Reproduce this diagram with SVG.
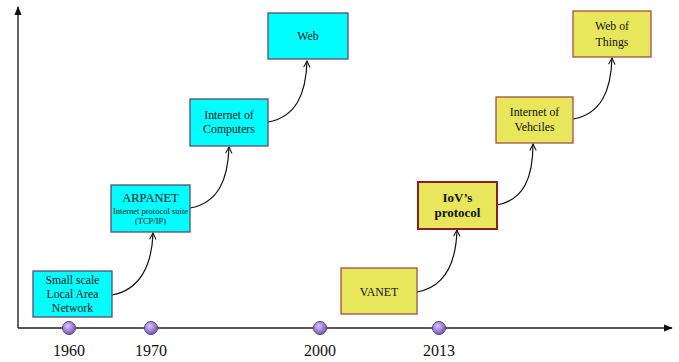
<svg xmlns="http://www.w3.org/2000/svg" width="679" height="362" viewBox="0 0 679 362">
<style>
.cy{fill:#00ffff;stroke:#5e4a6e;stroke-width:1.3}
.ye{fill:#e8e65a;stroke:#a0504a;stroke-width:1.3}
.yb{fill:#e8e65a;stroke:#8a1f2a;stroke-width:2}
text{font-family:"Liberation Serif","Times New Roman",serif;fill:#111;text-anchor:middle}
.t{font-size:11.8px}
.a{font-size:12.5px}
.s{font-size:8.5px}
.b{font-size:13px;font-weight:bold}
.yr{font-size:16px}
.con path{fill:none;stroke:#111;stroke-width:1.2}
.ax{stroke:#222;stroke-width:1.4;fill:none}
.dot{fill:url(#g);stroke:#5b3f8f;stroke-width:1}
</style>
<defs>
<marker id="oa" viewBox="0 0 10 10" refX="9" refY="5" markerWidth="8" markerHeight="8" orient="auto" markerUnits="userSpaceOnUse">
<path d="M1,1 L9,5 L1,9" fill="none" stroke="#111" stroke-width="1.3"/>
</marker>
<marker id="fa" viewBox="0 0 10 10" refX="9" refY="5" markerWidth="9" markerHeight="9" orient="auto" markerUnits="userSpaceOnUse">
<path d="M0,1 L10,5 L0,9 z" fill="#111"/>
</marker>
<radialGradient id="g" cx="40%" cy="35%" r="70%">
<stop offset="0" stop-color="#d9c8f5"/>
<stop offset="0.5" stop-color="#a487db"/>
<stop offset="1" stop-color="#6f4fb0"/>
</radialGradient>
</defs>
<g id="axes">
<path class="ax" d="M18,328 L18,7" marker-end="url(#fa)"/>
<path class="ax" d="M18,328 L672,328" marker-end="url(#fa)"/>
</g>
<g id="years">
<circle class="dot" cx="69" cy="328" r="6.5"/>
<circle class="dot" cx="151" cy="328" r="6.5"/>
<circle class="dot" cx="320" cy="328" r="6.5"/>
<circle class="dot" cx="439" cy="328" r="6.5"/>
<text class="yr" x="69" y="356">1960</text>
<text class="yr" x="151" y="356">1970</text>
<text class="yr" x="320" y="356">2000</text>
<text class="yr" x="439" y="356">2013</text>
</g>
<g class="con" id="connectors">
<path d="M112,295 C140,290 152,265 153,233" marker-end="url(#oa)"/>
<path d="M190,208 C218,203 228,180 229,147" marker-end="url(#oa)"/>
<path d="M268,122 C296,117 306,94 307,61" marker-end="url(#oa)"/>
<path d="M417,292 C445,287 456,262 457,230" marker-end="url(#oa)"/>
<path d="M497,205 C524,200 533,177 533,144" marker-end="url(#oa)"/>
<path d="M573,119 C601,114 611,91 612,58" marker-end="url(#oa)"/>
</g>
<g id="n1960">
<rect class="cy" x="33" y="271" width="79" height="46"/>
<text class="t" x="72.5" y="284">Small scale</text>
<text class="t" x="72.5" y="298">Local Area</text>
<text class="t" x="72.5" y="312">Network</text>
</g>
<g id="arpanet">
<rect class="cy" x="111" y="185" width="79" height="47"/>
<text class="a" x="150.5" y="202">ARPANET</text>
<text class="s" x="150.5" y="214">Internet protocol suite</text>
<text class="s" x="150.5" y="224">(TCP/IP)</text>
</g>
<g id="ioc">
<rect class="cy" x="190" y="99" width="78" height="47"/>
<text class="t" x="229" y="119">Internet of</text>
<text class="t" x="229" y="133">Computers</text>
</g>
<g id="web">
<rect class="cy" x="268" y="13" width="80" height="46"/>
<text class="t" x="308" y="40">Web</text>
</g>
<g id="vanet">
<rect class="ye" x="341" y="268" width="76" height="46"/>
<text class="t" x="379" y="296">VANET</text>
</g>
<g id="iovp">
<rect class="yb" x="418" y="182" width="79" height="47"/>
<text class="b" x="457.5" y="202">IoV’s</text>
<text class="b" x="457.5" y="217">protocol</text>
</g>
<g id="iov">
<rect class="ye" x="496" y="97" width="77" height="46"/>
<text class="t" x="534.5" y="116">Internet of</text>
<text class="t" x="534.5" y="131">Vehciles</text>
</g>
<g id="wot">
<rect class="ye" x="573" y="11" width="78" height="46"/>
<text class="t" x="612" y="30">Web of</text>
<text class="t" x="612" y="46">Things</text>
</g>
</svg>
